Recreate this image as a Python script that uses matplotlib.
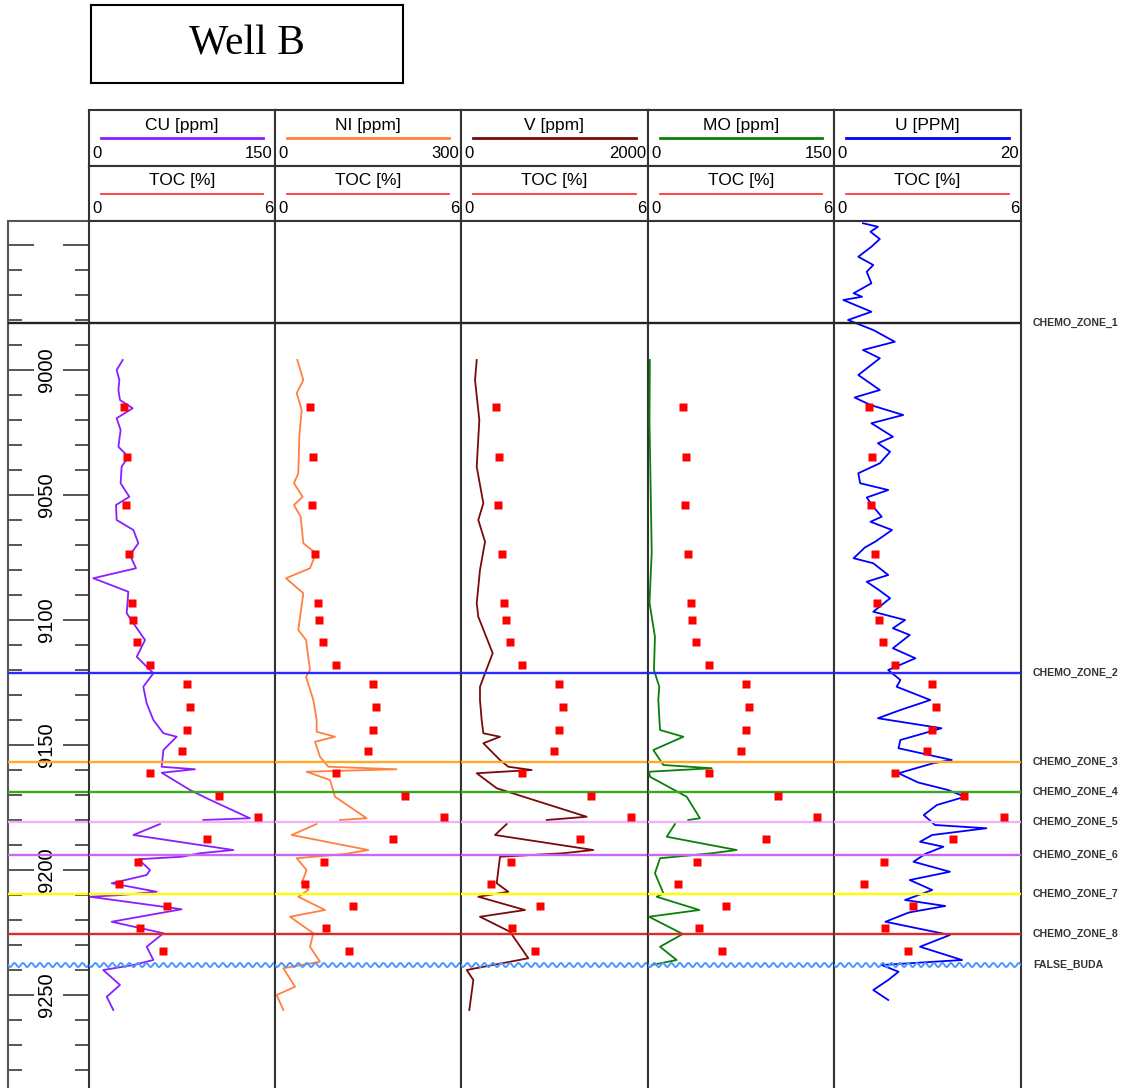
import numpy as np
import matplotlib.pyplot as plt
from matplotlib import transforms

W, H = 1122, 1088

# element logs, depth in ft
cu_depth = [8996.0, 9000.0, 9004.0, 9008.0, 9012.0, 9015.3, 9019.3, 9024.0, 9030.7, 9034.7,
            9038.7, 9045.3, 9050.7, 9054.0, 9060.0, 9064.0, 9069.3, 9074.0, 9079.3, 9083.3,
            9088.7, 9097.3, 9101.3, 9108.0, 9114.7, 9121.3, 9126.7, 9133.3, 9140.0, 9145.3,
            9146.7, 9152.0, 9158.7, 9159.7, 9161.1, 9168.0, 9171.3, 9179.3, 9180.0, np.nan,
            9181.6, 9186.0, 9192.0, 9193.3, 9194.7, 9195.7, 9200.0, 9202.0, 9205.3, 9208.7,
            9210.0, 9210.7, 9215.7, 9220.7, 9225.3, 9230.7, 9236.0, 9238.0, 9240.0, 9246.0,
            9250.7, 9256.0]
cu_ppm = [27.2, 22.3, 24.5, 23.7, 25.0, 35.2, 22.3, 25.5, 23.7, 31.7,
          26.3, 25.5, 32.5, 21.8, 22.3, 35.8, 39.8, 33.0, 37.9, 3.5,
          31.7, 30.4, 35.8, 45.2, 38.5, 51.9, 43.8, 46.5, 51.9, 60.0,
          70.7, 60.0, 58.6, 85.5, 58.6, 81.5, 94.9, 129.8, 92.2, np.nan,
          57.3, 35.8, 116.4, 89.5, 74.7, 39.8, 49.2, 46.5, 18.3, 54.6,
          26.3, 0.8, 74.7, 18.3, 60.0, 46.5, 51.9, 35.8, 11.5, 25.0,
          14.3, 19.6]

ni_depth = [8996.0, 9004.0, 9009.3, 9016.0, 9026.7, 9041.3, 9045.3, 9050.7, 9054.0, 9058.7,
            9069.3, 9073.3, 9079.3, 9083.3, 9089.3, 9104.0, 9108.0, 9120.0, 9122.7, 9132.0,
            9140.0, 9144.7, 9146.7, 9148.7, 9154.7, 9158.7, 9159.7, 9160.7, 9164.0, 9170.7,
            9179.3, 9180.0, np.nan, 9181.6, 9186.0, 9192.0, 9193.6, 9195.3, 9200.0, 9205.3,
            9208.0, 9210.7, 9216.0, 9218.7, 9225.3, 9230.7, 9236.7, 9239.3, 9246.7, 9250.0,
            9256.0]
ni_ppm = [36.0, 45.7, 35.0, 43.0, 39.2, 37.6, 30.6, 44.6, 30.6, 41.4,
          45.7, 66.0, 56.5, 17.7, 45.7, 37.6, 50.0, 56.5, 50.0, 61.8,
          67.2, 67.2, 96.8, 64.5, 72.6, 86.0, 196.0, 51.0, 88.7, 96.8,
          147.8, 104.8, np.nan, 67.2, 26.9, 150.5, 112.9, 35.0, 51.0, 43.0,
          53.8, 37.6, 80.6, 24.2, 61.8, 56.5, 72.6, 13.4, 32.3, 2.7,
          13.4]

v_depth = [8996.0, 9004.0, 9020.0, 9038.7, 9053.3, 9060.0, 9068.7, 9080.0, 9093.3, 9098.7,
           9113.3, 9121.3, 9126.7, 9132.0, 9140.0, 9145.3, 9146.7, 9149.3, 9156.0, 9158.7,
           9160.0, 9161.3, 9167.3, 9178.7, 9180.0, np.nan, 9181.6, 9186.0, 9192.0, 9193.3,
           9194.7, 9205.3, 9208.7, 9210.7, 9216.0, 9218.7, 9224.7, 9235.3, 9240.0, 9244.0,
           9256.0]
v_ppm = [168, 150, 196, 168, 239, 185, 257, 203, 168, 185,
         339, 257, 203, 203, 221, 239, 417, 239, 417, 506,
         756, 168, 382, 1344, 917, np.nan, 489, 364, 1415, 1094,
         417, 382, 506, 185, 684, 203, 524, 720, 61, 132,
         89]

mo_depth = [8996.0, 9020.0, 9073.0, 9093.0, 9106.7, 9120.0, 9126.7, 9132.0, 9144.0, 9146.7,
            9152.0, 9158.0, 9159.3, 9160.7, 9162.7, 9170.7, 9179.3, 9180.0, np.nan, 9181.6,
            9186.7, 9192.0, 9193.3, 9195.3, 9201.3, 9209.3, 9210.7, 9216.0, 9218.7, 9225.6,
            9230.7, 9236.0, 9238.0]
mo_ppm = [1.5, 1.2, 3.0, 1.2, 5.6, 4.8, 9.1, 8.3, 9.7, 28.5,
          4.3, 12.4, 51.4, 0.8, 1.6, 31.2, 41.9, 32.5, np.nan, 21.8,
          15.1, 71.5, 51.4, 9.7, 5.6, 12.4, 7.0, 41.4, 0.8, 28.0,
          9.7, 23.1, 3.0]

u_depth = [8941.3, 8942.7, 8944.7, 8947.6, 8950.7, 8954.7, 8958.0, 8960.7, 8965.3, 8969.3,
           8970.7, 8972.0, 8976.7, 8980.0, 8984.0, 8988.7, 8992.0, 8995.3, 9002.0, 9008.0,
           9011.0, 9014.0, 9018.0, 9021.3, 9026.7, 9029.3, 9032.7, 9037.3, 9041.3, 9045.3,
           9048.0, 9051.0, 9054.7, 9058.7, 9060.7, 9064.0, 9068.7, 9071.0, 9075.3, 9077.3,
           9082.0, 9084.7, 9088.0, 9091.3, 9096.7, 9100.0, 9103.3, 9106.0, 9111.3, 9115.3,
           9120.0, 9124.0, 9126.7, 9132.0, 9136.0, 9139.3, 9143.3, 9148.0, 9151.3, 9156.0,
           9157.3, 9161.3, 9165.0, 9168.0, 9170.7, 9174.0, 9178.0, 9182.0, 9183.3, 9186.0,
           9188.7, 9190.7, 9193.5, 9196.7, 9200.7, 9204.0, 9208.0, 9212.0, 9214.4, 9217.0,
           9220.7, 9226.0, 9230.7, 9236.0, 9238.0, 9240.7, 9244.0, 9248.0, 9252.0]
u_ppm = [3.1, 4.7, 3.9, 4.9, 4.0, 2.6, 4.2, 3.5, 4.0, 2.1,
         3.0, 1.0, 4.0, 1.5, 4.2, 6.5, 3.1, 4.9, 2.6, 4.9,
         2.2, 3.9, 7.4, 4.0, 6.3, 4.7, 6.0, 4.9, 2.6, 2.8,
         5.8, 3.5, 4.2, 5.1, 3.9, 6.2, 4.4, 3.3, 2.1, 4.2,
         5.8, 3.5, 4.8, 6.0, 4.2, 7.6, 6.3, 8.1, 6.3, 8.7,
         5.8, 7.1, 6.7, 10.3, 7.1, 4.7, 11.5, 7.1, 6.9, 12.6,
         10.6, 6.9, 9.0, 12.2, 14.0, 11.0, 9.6, 10.8, 16.3, 10.5,
         9.2, 11.7, 9.8, 8.5, 12.4, 8.1, 10.5, 7.6, 11.9, 8.0,
         5.5, 12.4, 9.2, 13.7, 5.1, 6.9, 5.8, 4.2, 5.8]

# core TOC samples
toc_depth = [9014.8, 9034.7, 9053.9, 9073.7, 9093.1, 9100.0, 9108.9, 9118.0, 9125.5, 9134.9,
             9144.0, 9152.3, 9161.3, 9170.4, 9179.0, 9187.5, 9196.7, 9205.6, 9214.3, 9223.3,
             9232.3]
toc_pct = [1.13, 1.22, 1.19, 1.30, 1.38, 1.43, 1.56, 1.97, 3.16, 3.26,
           3.16, 2.99, 1.97, 4.18, 5.44, 3.82, 1.59, 0.97, 2.53, 1.65,
           2.39]

zone_names = ["CHEMO_ZONE_1", "CHEMO_ZONE_2", "CHEMO_ZONE_3", "CHEMO_ZONE_4", "CHEMO_ZONE_5",
              "CHEMO_ZONE_6", "CHEMO_ZONE_7", "CHEMO_ZONE_8", "FALSE_BUDA"]
zone_depths = [8981.2, 9121.2, 9156.8, 9168.8, 9180.8, 9194.0, 9209.6, 9225.6, 9238.0]
zone_colors = ["#222222", "#2a2aff", "#ffaa22", "#3aa81a", "#efb2f6",
               "#cc66ee", "#ffff00", "#dd2a2a", "#4a96ff"]

track_names = ["CU [ppm]", "NI [ppm]", "V [ppm]", "MO [ppm]", "U [PPM]"]
track_max = [150, 300, 2000, 150, 20]
track_colors = ["#8a1eff", "#ff8040", "#7a0a0a", "#0a800a", "#0000ff"]
track_data = [(cu_ppm, cu_depth), (ni_ppm, ni_depth), (v_ppm, v_depth),
              (mo_ppm, mo_depth), (u_ppm, u_depth)]

edges = [89, 275, 461, 648, 834, 1021]
top_depth, bottom_depth = 8940.4, 9287.2
frame = "#333333"

plt.rcParams['font.family'] = ['Liberation Sans', 'DejaVu Sans']
fig = plt.figure(figsize=(W / 100, H / 100), dpi=100)


def px_axes(x0, y0, x1, y1):
    return fig.add_axes([x0 / W, 1 - y1 / H, (x1 - x0) / W, (y1 - y0) / H])


def bare(ax):
    ax.set_xticks([])
    ax.set_yticks([])
    for s in ax.spines.values():
        s.set_color(frame)
        s.set_linewidth(1.5)


def wavy(ax, depth, color, width_px):
    tr = transforms.blended_transform_factory(ax.transAxes, ax.transData)
    xs = np.linspace(0, 1, 600)
    ys = depth + 0.8 * np.sin(2 * np.pi * xs * width_px / 8.5)
    ax.plot(xs, ys, color=color, lw=1.4, transform=tr, zorder=4)


def zone_lines(ax, width_px):
    for d, c in zip(zone_depths[:-1], zone_colors[:-1]):
        ax.axhline(d, color=c, lw=1.7, zorder=4)
    wavy(ax, zone_depths[-1], zone_colors[-1], width_px)


# title box
tax = px_axes(91, 5, 403, 83)
bare(tax)
for s in tax.spines.values():
    s.set_color("black")
tax.text(0.5, 0.5, "Well B", ha="center", va="center", fontsize=30,
         family="Liberation Serif", transform=tax.transAxes)

# depth track
dax = px_axes(8, 221, 89, 1088)
dax.set_xlim(0, 1)
dax.set_ylim(bottom_depth, top_depth)
dax.spines["bottom"].set_visible(False)
dax.spines["right"].set_visible(False)
for s in ["left", "top"]:
    dax.spines[s].set_color("#555555")
    dax.spines[s].set_linewidth(1.5)
dax.set_xticks([])
dax.set_yticks(np.arange(8950, 9300, 50))
dax.set_yticks(np.arange(8950, 9290, 10), minor=True)
dax.set_yticklabels([])
dax.tick_params(axis="y", which="both", direction="in", left=True, right=True,
                color="#555555", width=1.4)
dax.tick_params(axis="y", which="major", length=18.5)
dax.tick_params(axis="y", which="minor", length=10)
for d in range(9000, 9300, 50):
    dax.text(0.48, d, str(d), rotation=90, ha="center", va="center", fontsize=14.5,
             transform=transforms.blended_transform_factory(dax.transAxes, dax.transData))
zone_lines(dax, 81)

for i in range(5):
    x0, x1 = edges[i], edges[i + 1]
    w = x1 - x0

    # header: element row and TOC row
    for row, (y0, y1) in enumerate([(110, 166), (166, 221)]):
        hax = px_axes(x0, y0, x1, y1)
        hax.set_xlim(0, w)
        hax.set_ylim(0, 1)
        bare(hax)
        if row == 0:
            name, col, hi, lw = track_names[i], track_colors[i], str(track_max[i]), 2.0
        else:
            name, col, hi, lw = "TOC [%]", "#ff3535", "6", 1.3
        hax.text(w / 2, 0.73, name, ha="center", va="center", fontsize=12.5)
        hax.plot([12, w - 12], [0.5, 0.5], color=col, lw=lw)
        hax.text(3, 0.22, "0", ha="left", va="center", fontsize=12)
        hax.text(w - 2, 0.22, hi, ha="right", va="center", fontsize=12)

    ax = px_axes(x0, 221, x1, 1088)
    bare(ax)
    ax.spines["bottom"].set_visible(False)
    ax.set_xlim(0, track_max[i])
    ax.set_ylim(bottom_depth, top_depth)
    vals, deps = track_data[i]
    ax.plot(vals, deps, color=track_colors[i], lw=1.3, zorder=3)
    zone_lines(ax, w)

    tx = ax.twiny()
    tx.set_xlim(0, 6)
    tx.set_ylim(bottom_depth, top_depth)
    tx.plot(toc_pct, toc_depth, "s", color="#ff0000", ms=5.5, mec="none", zorder=5)
    tx.set_xticks([])
    tx.set_yticks([])
    for s in tx.spines.values():
        s.set_visible(False)

    if i == 4:
        lab_tr = transforms.blended_transform_factory(fig.transFigure, ax.transData)
        for name, d in zip(zone_names, zone_depths):
            ax.text(1033 / W, d, name, ha="left", va="center", fontsize=7.6,
                    fontweight="bold", color="#333333", transform=lab_tr, clip_on=False)

fig.savefig("out.png", dpi=100)
